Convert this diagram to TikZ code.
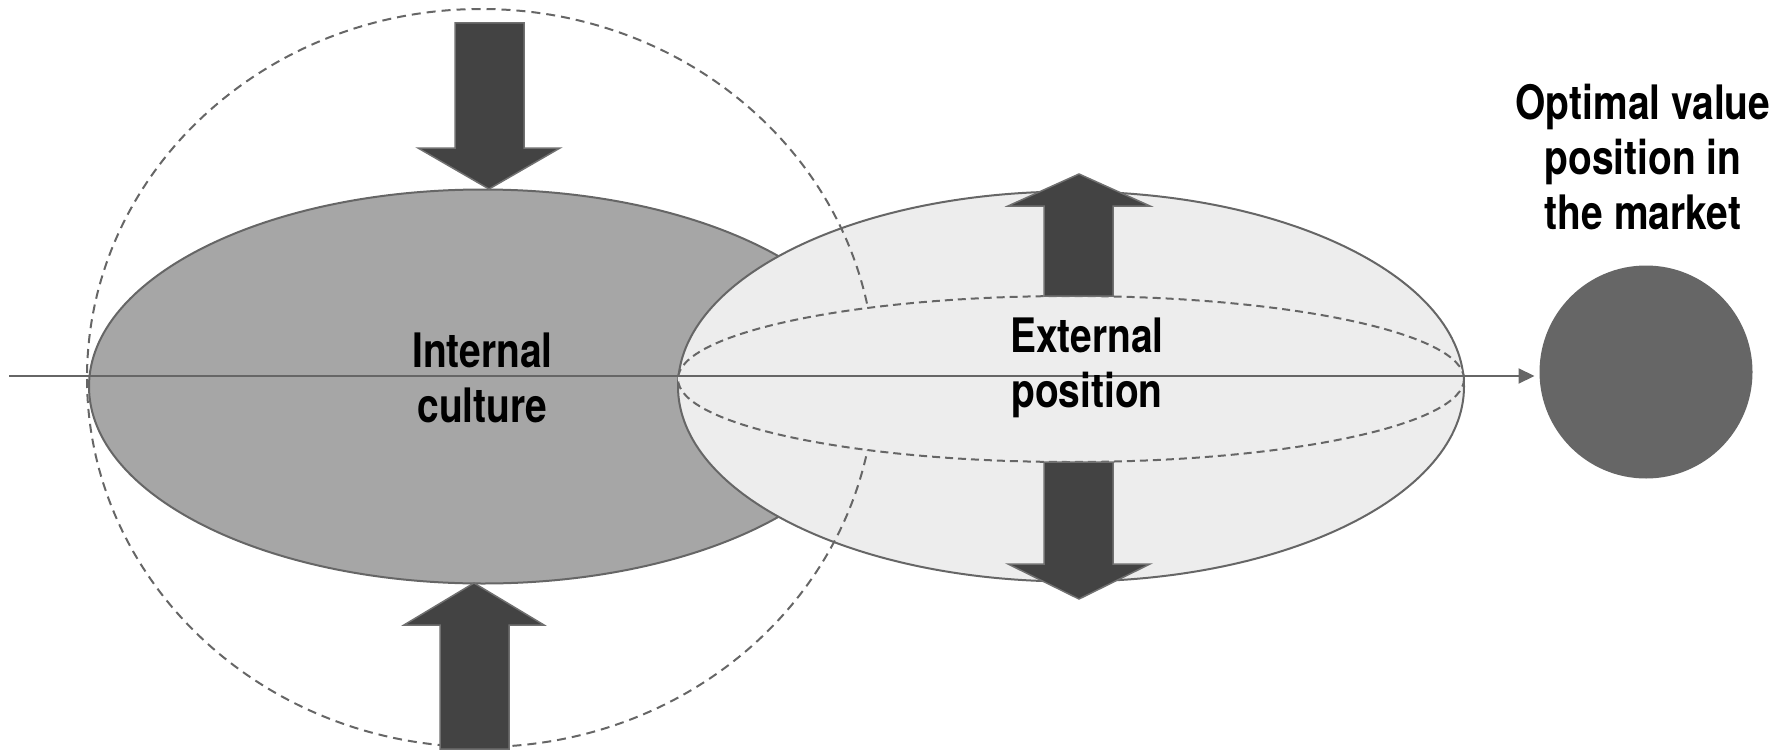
\documentclass[tikz,border=0pt]{standalone}
\usepackage{fontspec}
\setmainfont{TeX Gyre Heros}[FakeStretch=0.82]
\usetikzlibrary{arrows.meta,shapes.geometric}
\definecolor{edgegrey}{HTML}{666666}
\definecolor{cultfill}{HTML}{A6A6A6}
\definecolor{posfill}{HTML}{EDEDED}
\definecolor{marketfill}{HTML}{666666}
\definecolor{arrowfill}{HTML}{434343}
\definecolor{arrowedge}{HTML}{707070}
\begin{document}
\begin{tikzpicture}[x=1pt,y=-1pt,
  blob/.style={ellipse, inner sep=0pt, outer sep=0pt, draw=edgegrey, line width=2pt},
  guide/.style={draw=edgegrey, line width=2pt, dash pattern=on 9pt off 6pt},
  fatarrow/.style={fill=arrowfill, draw=arrowedge, line width=1.5pt, line join=miter},
  axisline/.style={draw=edgegrey, line width=2pt, -{Triangle[length=16pt,width=15pt]}, shorten >=5pt},
  lbl/.style={font=\bfseries\fontsize{47.5}{55}\selectfont, align=center, inner sep=0pt, text=black},
]
\useasboundingbox (0,0) rectangle (1779,752);
% ellipses
\node[blob, fill=cultfill, minimum width=788pt, minimum height=394pt] (culture) at (483,386.5) {};
\node[blob, fill=posfill, minimum width=786pt, minimum height=390pt] (position) at (1071,386.5) {};
\draw[guide] (481,378) ellipse [x radius=394pt, y radius=369pt];
\node[ellipse, inner sep=0pt, outer sep=0pt, fill=posfill, guide, dash pattern=on 8pt off 5pt, minimum width=786pt, minimum height=166pt] (inner) at (1071,379) {};
% market circle
\node[circle, fill=marketfill, minimum size=213pt, inner sep=0pt, outer sep=0pt] (market) at (1646,372) {};
% axis
\coordinate (axisstart) at (9,376);
\draw[axisline] (axisstart) -- (axisstart -| market.west);
% block arrows
\draw[fatarrow] (455,23) -- (524,23) -- (524,148) -- (560,148) -- (489,189) -- (418,148) -- (455,148) -- cycle;
\draw[fatarrow] (440,749) -- (509,749) -- (509,625) -- (544,625) -- (474,583) -- (404,625) -- (440,625) -- cycle;
\draw[fatarrow] (1044,296) -- (1113,296) -- (1113,206) -- (1150,206) -- (1079,174) -- (1008,206) -- (1044,206) -- cycle;
\draw[fatarrow] (1044,462) -- (1113,462) -- (1113,564) -- (1150,564) -- (1079,599) -- (1008,564) -- (1044,564) -- cycle;
% labels
\node[lbl] (culturetext) at (482.5,378) {Internal\\culture};
\node[lbl] (positiontext) at (1087,368) {External\\position};
\node[lbl] (markettext) at (1643,157) {Optimal value\\position in\\the market};
\end{tikzpicture}
\end{document}
